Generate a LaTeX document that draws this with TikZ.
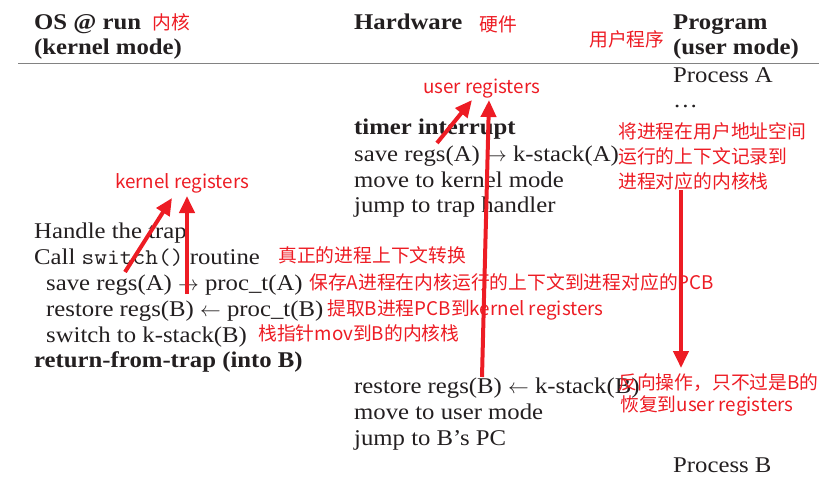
\documentclass[tikz,border=0pt]{standalone}
\usepackage{fontspec}
\setmainfont{Liberation Serif}[FakeStretch=1.1]
\newfontfamily\codefont{Latin Modern Mono}[FakeStretch=1.1]
\newfontfamily\cjk{Noto Sans CJK SC}
\usetikzlibrary{arrows.meta}
\definecolor{ink}{RGB}{35,31,32}
\definecolor{notered}{RGB}{237,28,36}
\definecolor{rulegray}{RGB}{130,130,130}
\begin{document}
\begin{tikzpicture}[x=1pt,y=-1pt,
  txt/.style={anchor=base west, inner sep=0pt, text=ink,
    font=\fontsize{22.5}{26}\selectfont},
  hdr/.style={txt, font=\fontsize{22.5}{26}\selectfont\bfseries},
  note/.style={anchor=base west, inner sep=0pt, text=notered,
    font=\cjk\fontsize{18.8}{22}\selectfont},
  redarrow/.style={draw=notered, line width=4pt,
    -{Triangle[length=17pt,width=15pt]}}
]
\useasboundingbox (0,0) rectangle (819,484);

% column headers
\node[hdr] (os1)  at (34,30)  {OS @ run};
\node[hdr] (os2)  at (34,55)  {(kernel mode)};
\node[hdr] (hw)   at (354,30) {Hardware};
\node[hdr] (pg1)  at (673,30) {Program};
\node[hdr] (pg2)  at (673,55) {(user mode)};
\node[note] (osn) at (152,30) {内核};
\node[note] (hwn) at (479,32) {硬件};
\node[note] (pgn) at (589,47) {用户程序};
\draw[rulegray, line width=1.5pt] (18,63.5) -- (819,63.5);

% user program column
\node[txt] (pa)   at (673,83)  {Process A};
\node[txt] (dots) at (673,108) {…};
\node[txt] (pb)   at (673,472) {Process B};

% hardware column
\node[note] (ureg) at (423,94) {user registers};
\node[hdr] (ti)  at (354,135) {timer interrupt};
\node[txt] (h1)  at (354,161) {save regs(A) $\rightarrow$ k-stack(A)};
\node[txt] (h2)  at (354,187) {move to kernel mode};
\node[txt] (h3)  at (354,212) {jump to trap handler};
\node[txt] (h4)  at (354,393) {restore regs(B) $\leftarrow$ k-stack(B)};
\node[txt] (h5)  at (354,419) {move to user mode};
\node[txt] (h6)  at (354,445) {jump to B’s PC};

% OS column
\node[note] (kreg) at (115,188) {kernel registers};
\node[txt] (o1) at (34,238) {Handle the trap};
\node[txt] (o2) at (34,264) {Call {\codefont switch()} routine};
\node[txt] (o3) at (46,290) {save regs(A) $\rightarrow$ proc\_t(A)};
\node[txt] (o4) at (46,316) {restore regs(B) $\leftarrow$ proc\_t(B)};
\node[txt] (o5) at (46,342) {switch to k-stack(B)};
\node[hdr] (o6) at (34,367) {return-from-trap (into B)};

% annotations
\node[note] (n1) at (278,262) {真正的进程上下文转换};
\node[note] (n2) at (309,289) {保存A进程在内核运行的上下文到进程对应的PCB};
\node[note] (n3) at (327,315) {提取B进程PCB到kernel registers};
\node[note] (n4) at (258,340) {栈指针mov到B的内核栈};
\node[note] (n5) at (618,139) {将进程在用户地址空间};
\node[note] (n6) at (618,164) {运行的上下文记录到};
\node[note] (n7) at (618,188) {进程对应的内核栈};
\node[note] (n8) at (618,389) {反向操作，只不过是B的};
\node[note] (n9) at (620,411) {恢复到user registers};

% arrow end points
\coordinate (ka0) at (125,272);
\coordinate (ka1) at (172,198);
\coordinate (kb0) at (187,294);
\coordinate (kb1) at (187,196);
\coordinate (ua0) at (437,143);
\coordinate (ua1) at (472,100);
\coordinate (ub0) at (482,377);
\coordinate (ub1) at (489,100);
\coordinate (ra0) at (681,190);
\coordinate (ra1) at (681,368);

\draw[redarrow] (ka0) -- (ka1);
\draw[redarrow] (kb0) -- (kb1);
\draw[redarrow] (ua0) -- (ua1);
\draw[redarrow] (ub0) -- (ub1);
\draw[redarrow] (ra0) -- (ra1);
\end{tikzpicture}
\end{document}
